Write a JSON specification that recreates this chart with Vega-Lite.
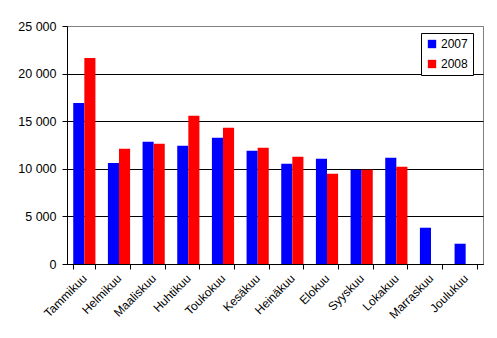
{
  "$schema": "https://vega.github.io/schema/vega-lite/v6.json",
  "autosize": "none",
  "width": 416,
  "height": 238,
  "padding": {"left": 67, "top": 26, "right": 14, "bottom": 74},
  "background": "white",
  "config": {
    "view": {"stroke": "#808080", "strokeWidth": 1},
    "font": "Liberation Sans"
  },
  "data": {
    "values": [
      {"month": "Tammikuu", "year": "2007", "value": 16900},
      {"month": "Tammikuu", "year": "2008", "value": 21650},
      {"month": "Helmikuu", "year": "2007", "value": 10600},
      {"month": "Helmikuu", "year": "2008", "value": 12100},
      {"month": "Maaliskuu", "year": "2007", "value": 12830},
      {"month": "Maaliskuu", "year": "2008", "value": 12620},
      {"month": "Huhtikuu", "year": "2007", "value": 12410},
      {"month": "Huhtikuu", "year": "2008", "value": 15560},
      {"month": "Toukokuu", "year": "2007", "value": 13250},
      {"month": "Toukokuu", "year": "2008", "value": 14300},
      {"month": "Kesäkuu", "year": "2007", "value": 11890},
      {"month": "Kesäkuu", "year": "2008", "value": 12200},
      {"month": "Heinäkuu", "year": "2007", "value": 10520},
      {"month": "Heinäkuu", "year": "2008", "value": 11260},
      {"month": "Elokuu", "year": "2007", "value": 11050},
      {"month": "Elokuu", "year": "2008", "value": 9470},
      {"month": "Syyskuu", "year": "2007", "value": 9890},
      {"month": "Syyskuu", "year": "2008", "value": 9890},
      {"month": "Lokakuu", "year": "2007", "value": 11150},
      {"month": "Lokakuu", "year": "2008", "value": 10210},
      {"month": "Marraskuu", "year": "2007", "value": 3810},
      {"month": "Joulukuu", "year": "2007", "value": 2130}
    ]
  },
  "mark": {"type": "bar"},
  "encoding": {
    "x": {
      "field": "month",
      "type": "nominal",
      "sort": null,
      "scale": {"paddingInner": 0.36, "paddingOuter": 0.18},
      "axis": {
        "title": null,
        "domainColor": "black",
        "tickColor": "black",
        "tickSize": 5,
        "tickBand": "extent",
        "labelAngle": -45,
        "labelAlign": "right",
        "labelBaseline": "middle",
        "labelFontSize": 12,
        "labelColor": "black",
        "labelPadding": 7,
        "labelDx": -3,
        "grid": false
      }
    },
    "xOffset": {"field": "year", "type": "nominal"},
    "y": {
      "field": "value",
      "type": "quantitative",
      "scale": {"domain": [0, 25000]},
      "axis": {
        "title": null,
        "values": [0, 5000, 10000, 15000, 20000, 25000],
        "labelExpr": "replace(format(datum.value, ','), ',', ' ')",
        "domainColor": "black",
        "tickColor": "black",
        "tickSize": 5,
        "labelFontSize": 12.5,
        "labelColor": "black",
        "labelPadding": 6,
        "gridColor": {"condition": {"test": "datum.value === 25000", "value": "#808080"}, "value": "black"},
        "gridOpacity": 1
      }
    },
    "color": {
      "field": "year",
      "type": "nominal",
      "scale": {"range": ["#0000ff", "#ff0000"]},
      "legend": {
        "title": null,
        "orient": "none",
        "legendX": 354,
        "legendY": 7,
        "strokeColor": "black",
        "fillColor": "white",
        "padding": 5,
        "symbolType": "square",
        "symbolSize": 70,
        "symbolStrokeWidth": 0,
        "labelFontSize": 12,
        "labelColor": "black",
        "labelOffset": 3,
        "rowPadding": 8
      }
    }
  }
}
